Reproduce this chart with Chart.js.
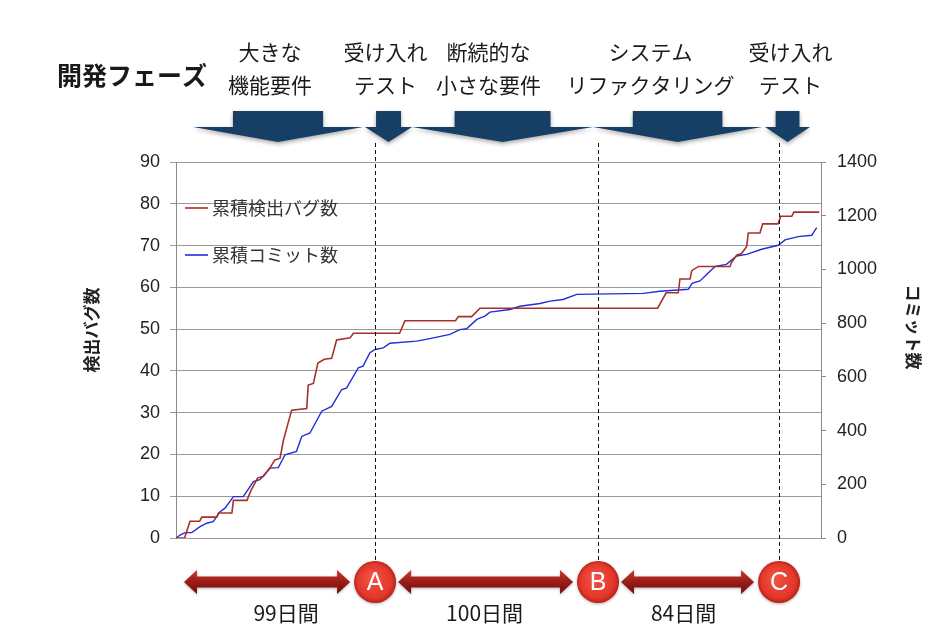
<!DOCTYPE html>
<html><head><meta charset="utf-8">
<script src="https://cdn.jsdelivr.net/npm/chart.js@4.4.1/dist/chart.umd.min.js"></script>
<style>html,body{margin:0;padding:0;background:#fff}</style>
</head><body>
<canvas id="c" width="950" height="644"></canvas>
<script>
// ---- data ----
const bugDays   = [0, 4, 6.5, 11, 12, 19, 19.7, 26, 26.7, 33, 35, 38, 40.6, 43.7, 46, 48.4, 50, 53.8, 60.8, 61.5, 63.9, 66, 69, 72.4, 74.7, 81, 82.5, 104, 106.5, 130, 131.3, 137.5, 141.4, 224, 228, 233.6, 234.4, 239.1, 239.9, 243, 257.7, 258.4, 260.8, 263, 265.4, 266.2, 271.6, 272.9, 280, 281.3, 286.4, 287.4, 299.2];
const bugCounts = [0, 0, 4, 4, 5, 5, 6, 6, 9, 9, 11.5, 14.4, 14.7, 16.8, 18.7, 19.1, 23.5, 30.6, 31, 36.6, 37, 41.9, 42.8, 43, 47.4, 47.9, 49, 49, 52, 52, 53, 53, 55, 55, 58.7, 58.7, 62, 62, 64, 65, 65, 66, 67.7, 68.1, 69.7, 73, 73, 75.2, 75.2, 77, 77, 78, 78];
const commitDays   = [0, 1.9, 4.2, 7.3, 11.2, 14.3, 17.3, 20.5, 22.8, 26.7, 31.3, 36, 39, 43.7, 47.6, 50.7, 56, 58.5, 62.3, 67.8, 72.4, 77, 79.4, 84.8, 87, 90.2, 92.6, 96.4, 99.5, 112, 119.7, 127.4, 132, 135.2, 139.9, 143.7, 146, 155.3, 160, 169.3, 174, 180, 186.4, 217.4, 225, 238.3, 240, 243.7, 250.7, 256, 260.8, 265.4, 272.4, 280.1, 283.3, 289.4, 295.7, 298];
const commitCounts = [0, 11, 20, 20, 42, 55, 61, 98, 111, 154, 154, 210, 217, 260, 262, 310, 322, 378, 391, 472, 490, 552, 559, 634, 640, 690, 702, 708, 725, 733, 745, 758, 776, 779, 814, 826, 841, 851, 863, 873, 882, 888, 907, 911, 919, 926, 948, 957, 1011, 1019, 1050, 1056, 1075, 1090, 1110, 1122, 1127, 1156];
const seriesNames = ['累積検出バグ数', '累積コミット数'];
const axisTitles = ['検出バグ数', 'コミット数'];
const milestoneLabels = ['A', 'B', 'C'];
const milestoneDays = [92.6, 196.3, 280.5];
const intervalDays = [99, 100, 84];
const phaseTitle = '開発フェーズ';
const phaseLabels = [['大きな', '機能要件'], ['受け入れ', 'テスト'], ['断続的な', '小さな要件'], ['システム', 'リファクタリング'], ['受け入れ', 'テスト']];
const phaseStart = [7.9, 87.9, 109.8, 194.0, 274.0];
const phaseEnd   = [87.0, 109.8, 194.0, 272.6, 294.9];

// ---- styling constants ----
const JP = '"Noto Sans CJK JP", "Noto Sans", sans-serif';
const NUM = '"Liberation Sans", Arial, sans-serif';
const phaseLabelShift = [-8, -3, -14, -27, 3];
const intervalLabelShift = [19, -1, -4];

const pts = (xs, ys) => xs.map((v, i) => ({x: v, y: ys[i]}));

const deco = {
  id: 'deco',
  beforeDraw(chart) {
    const c = chart.ctx;
    c.save(); c.fillStyle = '#fff'; c.fillRect(0, 0, chart.width, chart.height); c.restore();
  },
  afterDatasetsDraw(chart) {
    const c = chart.ctx, xs = chart.scales.x;
    c.save();
    // milestone dashed lines
    c.setLineDash([4, 3]); c.strokeStyle = '#111'; c.lineWidth = 1;
    milestoneDays.forEach(d => {
      const px = Math.round(xs.getPixelForValue(d)) + 0.5;
      c.beginPath(); c.moveTo(px, 143); c.lineTo(px, 561); c.stroke();
    });
    c.setLineDash([]);

    // legend
    const dsets = chart.data.datasets;
    [208, 255].forEach((ly, i) => {
      c.strokeStyle = dsets[i].borderColor; c.lineWidth = 1.6;
      c.beginPath(); c.moveTo(185, ly); c.lineTo(208, ly); c.stroke();
      c.fillStyle = '#333'; c.font = '18px ' + JP; c.textBaseline = 'middle'; c.textAlign = 'left';
      c.fillText(seriesNames[i], 212, ly);
    });

    // axis titles
    c.fillStyle = '#222'; c.font = 'bold 17px ' + JP; c.textAlign = 'center'; c.textBaseline = 'middle';
    c.save(); c.translate(92, 330); c.rotate(-Math.PI / 2); c.fillText(axisTitles[0], 0, 0); c.restore();
    c.save(); c.translate(913, 327); c.rotate(Math.PI / 2); c.fillText(axisTitles[1], 0, 0); c.restore();

    // phase title
    c.fillStyle = '#1a1a1a'; c.font = 'bold 25px ' + JP; c.textAlign = 'left'; c.textBaseline = 'middle';
    c.fillText(phaseTitle, 57, 75);

    // phase arrows
    phaseStart.forEach((s, i) => {
      const x0 = xs.getPixelForValue(s), x1 = xs.getPixelForValue(phaseEnd[i]);
      const cx = (x0 + x1) / 2, sw = (x1 - x0) * 0.53;
      c.save();
      c.shadowColor = 'rgba(0,0,0,0.35)'; c.shadowBlur = 4; c.shadowOffsetY = 2;
      c.fillStyle = '#173f66';
      c.beginPath();
      c.moveTo(cx - sw / 2, 111); c.lineTo(cx + sw / 2, 111); c.lineTo(cx + sw / 2, 127);
      c.lineTo(x1, 127); c.lineTo(cx, 142); c.lineTo(x0, 127); c.lineTo(cx - sw / 2, 127);
      c.closePath(); c.fill();
      c.restore();
      c.fillStyle = '#1a1a1a'; c.font = '21px ' + JP; c.textAlign = 'center'; c.textBaseline = 'middle';
      const lx = cx + phaseLabelShift[i];
      c.fillText(phaseLabels[i][0], lx, 52);
      c.fillText(phaseLabels[i][1], lx, 85);
    });

    // bottom interval arrows
    const my = 582;
    const mpx = milestoneDays.map(d => xs.getPixelForValue(d));
    intervalDays.forEach((n, i) => {
      const s = i === 0 ? xs.getPixelForValue(0) + 8 : mpx[i - 1] + 23;
      const e = mpx[i] - 25;
      const g = c.createLinearGradient(0, my - 12, 0, my + 12);
      g.addColorStop(0, '#c83a30'); g.addColorStop(0.5, '#9a1c18'); g.addColorStop(1, '#6e0d0b');
      c.save();
      c.shadowColor = 'rgba(0,0,0,0.3)'; c.shadowBlur = 3; c.shadowOffsetY = 1;
      c.fillStyle = g;
      c.beginPath();
      c.moveTo(s, my); c.lineTo(s + 13, my - 12); c.lineTo(s + 13, my - 5.5);
      c.lineTo(e - 13, my - 5.5); c.lineTo(e - 13, my - 12); c.lineTo(e, my);
      c.lineTo(e - 13, my + 12); c.lineTo(e - 13, my + 5.5); c.lineTo(s + 13, my + 5.5);
      c.lineTo(s + 13, my + 12); c.closePath(); c.fill();
      c.restore();
      c.fillStyle = '#1a1a1a'; c.font = '21px ' + JP; c.textAlign = 'center'; c.textBaseline = 'middle';
      c.fillText(n + '日間', (s + e) / 2 + intervalLabelShift[i], 613);
    });

    // milestone circles
    mpx.forEach((px, i) => {
      const g = c.createRadialGradient(px - 4, my - 5, 2, px, my, 21);
      g.addColorStop(0, '#f25243'); g.addColorStop(0.8, '#e1372a'); g.addColorStop(1, '#b82218');
      c.save();
      c.shadowColor = 'rgba(0,0,0,0.3)'; c.shadowBlur = 3; c.shadowOffsetY = 1;
      c.fillStyle = g; c.beginPath(); c.arc(px, my, 21, 0, Math.PI * 2); c.fill();
      c.restore();
      c.fillStyle = '#fff'; c.font = '25px ' + NUM; c.textAlign = 'center'; c.textBaseline = 'middle';
      c.fillText(milestoneLabels[i], px, my + 1);
    });
    c.restore();
  }
};

new Chart(document.getElementById('c'), {
  type: 'line',
  data: {
    datasets: [
      {label: seriesNames[0], data: pts(bugDays, bugCounts), yAxisID: 'y', borderColor: '#a8302b', borderWidth: 1.6, pointRadius: 0, tension: 0},
      {label: seriesNames[1], data: pts(commitDays, commitCounts), yAxisID: 'y2', borderColor: '#1f2ed6', borderWidth: 1.4, pointRadius: 0, tension: 0}
    ]
  },
  options: {
    responsive: false,
    animation: false,
    devicePixelRatio: 1,
    layout: {padding: {top: 162, bottom: 106, left: 0, right: 0}},
    plugins: {legend: {display: false}, tooltip: {enabled: false}},
    scales: {
      x: {type: 'linear', min: 0, max: 300, display: false},
      y: {
        position: 'left', min: 0, max: 90,
        ticks: {stepSize: 10, color: '#222', font: {size: 18, family: NUM}, padding: 10, callback: v => String(v)},
        grid: {color: '#9a9a9a', tickLength: 6, lineWidth: 1},
        border: {color: '#8a8a8a'},
        afterFit: s => { s.width = 176; }
      },
      y2: {
        position: 'right', min: 0, max: 1400,
        ticks: {stepSize: 200, color: '#222', font: {size: 18, family: NUM}, padding: 11, callback: v => String(v)},
        grid: {drawOnChartArea: false, color: '#8a8a8a', tickLength: 5},
        border: {color: '#8a8a8a'},
        afterFit: s => { s.width = 129; }
      }
    }
  },
  plugins: [deco]
});
</script>
</body></html>
